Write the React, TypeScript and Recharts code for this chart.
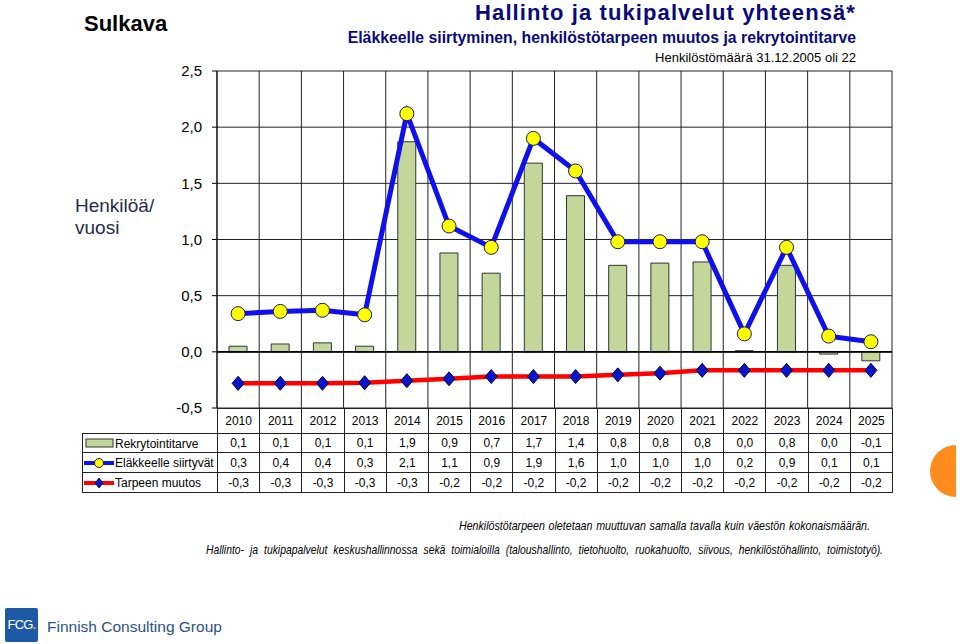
import React, { useLayoutEffect, useRef, useState } from 'react';
import { ComposedChart, Bar, Line, XAxis, YAxis, CartesianGrid, ReferenceLine } from 'recharts';

const years = ['2010','2011','2012','2013','2014','2015','2016','2017','2018','2019','2020','2021','2022','2023','2024','2025'];
const rekrytointitarve = [0.05, 0.07, 0.08, 0.05, 1.87, 0.88, 0.70, 1.68, 1.39, 0.77, 0.79, 0.80, 0.01, 0.77, -0.02, -0.08];
const elakkeelle = [0.34, 0.36, 0.37, 0.33, 2.12, 1.12, 0.93, 1.90, 1.61, 0.98, 0.98, 0.98, 0.16, 0.93, 0.14, 0.09];
const tarpeenMuutos = [-0.28, -0.28, -0.28, -0.275, -0.257, -0.24, -0.22, -0.22, -0.22, -0.205, -0.19, -0.165, -0.165, -0.165, -0.165, -0.165];
const yTicks = [-0.5, 0, 0.5, 1.0, 1.5, 2.0, 2.5];

const seriesNames = ['Rekrytointitarve', 'Eläkkeelle siirtyvät', 'Tarpeen muutos'];

const data = years.map((y, i) => ({
  year: y,
  rekry: rekrytointitarve[i],
  elak: elakkeelle[i],
  tarve: tarpeenMuutos[i],
}));

const fmt = (v: number) => {
  const r = Math.round(v * 10) / 10;
  return (r === 0 ? 0 : r).toFixed(1).replace('.', ',');
};

const FONT = '"Liberation Sans", Arial, sans-serif';

const Diamond = (props: any) => {
  const { cx, cy, index } = props;
  if (cx == null || cy == null) return null;
  return (
    <polygon
      key={'d' + index}
      points={`${cx},${cy - 7} ${cx + 6},${cy} ${cx},${cy + 7} ${cx - 6},${cy}`}
      fill="#0a14c8"
      stroke="#00003a"
      strokeWidth={1}
    />
  );
};

const LegendIcon = ({ kind }: { kind: number }) => (
  <svg width={30} height={12} style={{ verticalAlign: 'middle', marginRight: 1 }}>
    {kind === 0 && <rect x={2} y={2} width={27} height={8} fill="#c4d79b" stroke="#333" strokeWidth={1} />}
    {kind === 1 && (
      <g>
        <line x1={0} y1={6} x2={30} y2={6} stroke="#1010ee" strokeWidth={4} />
        <circle cx={15} cy={6} r={4.5} fill="#ffff00" stroke="#1a1a5a" strokeWidth={1} />
      </g>
    )}
    {kind === 2 && (
      <g>
        <line x1={0} y1={6} x2={30} y2={6} stroke="#ff0000" strokeWidth={4} />
        <polygon points="15,1 19,6 15,11 11,6" fill="#0a14c8" stroke="#00003a" strokeWidth={0.8} />
      </g>
    )}
  </svg>
);

// Text squeezed horizontally to a target width (reference uses a condensed font)
const FitText = ({ text, left, top, width, wordSpacing = 0 }: { text: string; left: number; top: number; width: number; wordSpacing?: number }) => {
  const ref = useRef<HTMLSpanElement>(null);
  const [scale, setScale] = useState(1);
  useLayoutEffect(() => {
    if (ref.current) {
      const w = ref.current.getBoundingClientRect().width / scale;
      if (w > 0) setScale(width / w);
    }
  }, []);
  return (
    <span
      ref={ref}
      style={{
        position: 'absolute',
        left,
        top,
        display: 'inline-block',
        whiteSpace: 'nowrap',
        fontSize: 13.5,
        fontStyle: 'italic',
        fontFamily: FONT,
        color: '#000',
        lineHeight: '16px',
        wordSpacing,
        transformOrigin: '0 0',
        transform: `scaleX(${scale})`,
      }}
    >
      {text}
    </span>
  );
};

const PLOT_LEFT = 217;
const PLOT_RIGHT = 892;
const colW = (PLOT_RIGHT - PLOT_LEFT) / years.length;

export default function App() {
  const rows = [rekrytointitarve, elakkeelle, tarpeenMuutos];
  const cellBorder = '1px solid #222';
  return (
    <div style={{ position: 'absolute', left: 0, top: 0, width: 960, height: 644, background: '#fff', fontFamily: FONT, overflow: 'hidden' }}>
      <div style={{ position: 'absolute', left: 84, top: 11, fontSize: 22, fontWeight: 'bold', color: '#000', lineHeight: '26px' }}>Sulkava</div>
      <div style={{ position: 'absolute', left: 0, width: 856, top: 0, textAlign: 'right', fontSize: 22, fontWeight: 'bold', color: '#0a0a78', lineHeight: '26px', letterSpacing: 1.1 }}>
        Hallinto ja tukipalvelut yhteensä*
      </div>
      <div style={{ position: 'absolute', left: 0, width: 856, top: 28, textAlign: 'right', fontSize: 15.8, fontWeight: 'bold', color: '#0a0a78', lineHeight: '20px' }}>
        Eläkkeelle siirtyminen, henkilöstötarpeen muutos ja rekrytointitarve
      </div>
      <div style={{ position: 'absolute', left: 0, width: 856, top: 50, textAlign: 'right', fontSize: 13, color: '#000', lineHeight: '16px' }}>
        Henkilöstömäärä 31.12.2005 oli 22
      </div>

      <div style={{ position: 'absolute', left: 75, top: 195, fontSize: 19, color: '#2a2a48', lineHeight: '22px' }}>
        Henkilöä/<br />vuosi
      </div>

      <div style={{ position: 'absolute', left: 0, top: 0 }}>
        <ComposedChart width={960} height={430} data={data} margin={{ top: 71, right: 960 - PLOT_RIGHT, left: PLOT_LEFT - 60, bottom: 22 }}>
          <CartesianGrid
            stroke="#222"
            strokeWidth={1}
            verticalCoordinatesGenerator={(props: any) => {
              const off = props.offset;
              const out: number[] = [];
              for (let i = 0; i <= years.length; i++) out.push(off.left + (i * off.width) / years.length);
              return out;
            }}
          />
          <XAxis dataKey="year" hide />
          <YAxis
            width={60}
            domain={[-0.5, 2.5]}
            ticks={yTicks}
            interval={0}
            tickFormatter={(v: number) => v.toFixed(1).replace('.', ',')}
            tick={{ fill: '#000', fontSize: 15, fontFamily: FONT }}
            tickSize={5}
            tickMargin={10}
            axisLine={{ stroke: '#000', strokeWidth: 1 }}
            tickLine={{ stroke: '#000' }}
          />
          <ReferenceLine y={0} stroke="#000" strokeWidth={1.6} />
          <Bar dataKey="rekry" name={seriesNames[0]} fill="#c4d79b" stroke="#333" strokeWidth={1} barSize={18} isAnimationActive={false} />
          <Line
            type="linear"
            dataKey="elak"
            name={seriesNames[1]}
            stroke="#1010ee"
            strokeWidth={5}
            dot={{ r: 7, fill: '#ffff00', stroke: '#1a1a5a', strokeWidth: 1 }}
            isAnimationActive={false}
          />
          <Line
            type="linear"
            dataKey="tarve"
            name={seriesNames[2]}
            stroke="#ff0000"
            strokeWidth={4.5}
            dot={<Diamond />}
            isAnimationActive={false}
          />
        </ComposedChart>
      </div>

      <table
        style={{
          position: 'absolute',
          left: 82,
          top: 408,
          borderCollapse: 'collapse',
          tableLayout: 'fixed',
          width: PLOT_RIGHT - 82,
          fontSize: 12,
          fontFamily: FONT,
          color: '#000',
        }}
      >
        <colgroup>
          <col style={{ width: PLOT_LEFT - 82 }} />
          {years.map((y) => (
            <col key={y} style={{ width: colW }} />
          ))}
        </colgroup>
        <tbody>
          <tr style={{ height: 25 }}>
            <td style={{ padding: 0, borderRight: cellBorder }}></td>
            {years.map((y) => (
              <td key={y} style={{ border: cellBorder, textAlign: 'center', padding: 0 }}>{y}</td>
            ))}
          </tr>
          {rows.map((r, ri) => (
            <tr key={ri} style={{ height: ri === 0 ? 19 : 20 }}>
              <td style={{ border: cellBorder, padding: '0 0 0 1px', whiteSpace: 'nowrap', overflow: 'visible' }}>
                <LegendIcon kind={ri} />
                <span style={{ verticalAlign: 'middle' }}>{seriesNames[ri]}</span>
              </td>
              {r.map((v, i) => (
                <td key={i} style={{ border: cellBorder, textAlign: 'center', padding: 0 }}>{fmt(v)}</td>
              ))}
            </tr>
          ))}
        </tbody>
      </table>

      <FitText
        text="Henkilöstötarpeen oletetaan muuttuvan samalla tavalla kuin väestön kokonaismäärän."
        left={459}
        top={518}
        width={411}
        wordSpacing={1}
      />
      <FitText
        text="Hallinto- ja tukipapalvelut keskushallinnossa sekä toimialoilla (taloushallinto, tietohuolto, ruokahuolto, siivous, henkilöstöhallinto, toimistotyö)."
        left={206}
        top={542}
        width={677}
        wordSpacing={4}
      />

      <div style={{ position: 'absolute', left: 930, top: 445, width: 26, height: 52, background: '#ff8c1e', borderRadius: '26px 0 0 26px' }} />

      <div style={{ position: 'absolute', left: 5, top: 608, width: 33, height: 34, background: '#1d5aa6', borderRadius: 2, color: '#fff', fontSize: 13, lineHeight: '34px', textAlign: 'center', letterSpacing: -0.8 }}>
        FCG<span style={{ color: '#ff9a2a', fontWeight: 'bold' }}>.</span>
      </div>
      <div style={{ position: 'absolute', left: 47, top: 617, fontSize: 15.5, color: '#2b5286', lineHeight: '20px' }}>
        Finnish Consulting Group
      </div>
    </div>
  );
}
